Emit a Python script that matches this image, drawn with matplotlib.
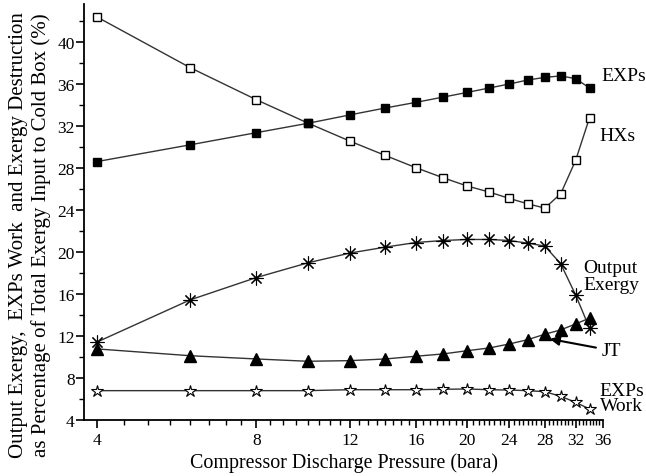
import numpy as np
import matplotlib.pyplot as plt
from matplotlib.ticker import FixedLocator, NullFormatter, MultipleLocator

plt.rcParams['font.family'] = ['Liberation Serif', 'DejaVu Serif']

pressure = [4, 6, 8, 10, 12, 14, 16, 18, 20, 22, 24, 26, 28, 30, 32, 34]
hxs = [42.4, 37.56, 34.5, 32.28, 30.56, 29.19, 28.02, 27.06, 26.27, 25.7,
       25.09, 24.58, 24.17, 25.54, 28.71, 32.79]
exps = [28.6, 30.2, 31.36, 32.25, 33.05, 33.71, 34.25, 34.75, 35.2, 35.62,
        36.0, 36.38, 36.63, 36.77, 36.51, 35.62]
output_exergy = [11.39, 15.42, 17.55, 18.95, 19.88, 20.45, 20.89, 21.08, 21.18,
                 21.18, 21.08, 20.83, 20.55, 18.86, 15.9, 12.72]
jt = [10.75, 10.1, 9.79, 9.57, 9.63, 9.79, 10.05, 10.27, 10.58, 10.84,
      11.22, 11.63, 12.15, 12.56, 13.13, 13.68]
exps_work = [6.77, 6.77, 6.77, 6.77, 6.86, 6.86, 6.86, 6.9, 6.93, 6.86,
             6.83, 6.77, 6.67, 6.23, 5.66, 5.02]

major_x = [4, 8, 12, 16, 20, 24, 28, 32, 36]
minor_x = np.arange(4.5, 36, 0.5)

fig = plt.figure(figsize=(6.46, 4.77), dpi=100)
ax = fig.add_axes([0.1305, 0.118, 0.933 - 0.1305, 0.989 - 0.118])

lc = '#333333'
ax.plot(pressure, hxs, '-', color=lc, lw=1, marker='s', ms=6,
        mfc='white', mec='black', mew=1)
ax.plot(pressure, exps, '-', color=lc, lw=1, marker='s', ms=6,
        mfc='black', mec='black')
ax.plot(pressure, output_exergy, '-', color=lc, lw=1, marker=(8, 2, 0), ms=10,
        mec='black', mew=0.8)
ax.plot(pressure, output_exergy, ls='none', marker='s', ms=2,
        mfc='black', mec='black')
ax.plot(pressure, jt, '-', color=lc, lw=1, marker='^', ms=8,
        mfc='black', mec='black')
ax.plot(pressure, exps_work, '-', color=lc, lw=1, marker='*', ms=9,
        mfc='white', mec='black', mew=0.8)

ax.set_xscale('log')
ax.set_xlim(3.79, 36)
ax.set_ylim(4, 43.6)
ax.xaxis.set_major_locator(FixedLocator(major_x))
ax.xaxis.set_minor_locator(FixedLocator(minor_x))
ax.xaxis.set_minor_formatter(NullFormatter())
ax.set_xticklabels([str(v) for v in major_x])
ax.yaxis.set_major_locator(MultipleLocator(4))
ax.yaxis.set_minor_locator(MultipleLocator(2))

for s in ['top', 'right']:
    ax.spines[s].set_visible(False)
for s in ['left', 'bottom']:
    ax.spines[s].set_linewidth(1.3)
ax.tick_params(which='major', direction='out', length=6, width=1.2,
               labelsize=12.5)
ax.tick_params(which='minor', direction='out', length=3.5, width=1)
ax.tick_params(axis='y', pad=1)
ax.tick_params(axis='x', pad=3)

ax.set_xlabel('Compressor Discharge Pressure (bara)', fontsize=14.4,
              labelpad=3)
fig.text(30 / 646, 1 - 235 / 477,
         'Output Exergy,  EXPs Work  and Exergy Destruction\n'
         'as Percentage of Total Exergy Input to Cold Box (%)',
         fontsize=15, rotation=90, ha='center', va='center',
         multialignment='center', linespacing=1.2)

ax.text(35.8, 36.8, 'EXPs', fontsize=14, va='center', ha='left')
ax.text(35.5, 31.1, 'HXs', fontsize=14, va='center', ha='left')
ax.text(33.1, 17.7, 'Output\nExergy', fontsize=14, va='center', ha='left',
        linespacing=0.95)
ax.annotate('JT', xy=(28.6, 11.7), xytext=(35.8, 10.6), fontsize=14,
            va='center', ha='left',
            arrowprops=dict(arrowstyle='-|>', color='black', lw=1.5,
                            shrinkA=2, shrinkB=0))
ax.text(35.5, 6.07, 'EXPs\nWork', fontsize=14, va='center', ha='left',
        linespacing=0.8)

for t in ax.texts:
    t.set_clip_on(False)

fig.savefig('out.png', dpi=100)
